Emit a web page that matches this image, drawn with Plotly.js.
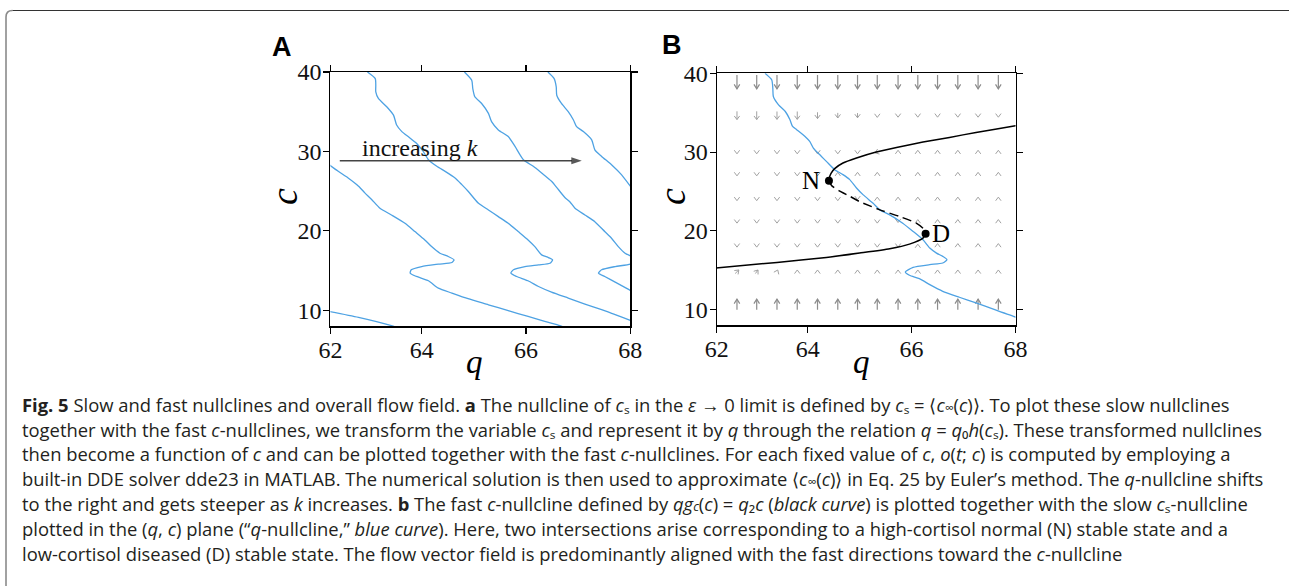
<!DOCTYPE html>
<html>
<head>
<meta charset="utf-8">
<script src="https://cdn.plot.ly/plotly-3.0.1.min.js"></script>
<style>html,body{margin:0;padding:0;background:#fff;}#plot{width:1289px;height:586px;}</style>
</head>
<body>
<div id="plot"></div>
<script>
// ---------- Panel A: slow q-nullclines for increasing k ----------
var nullK0_q = [62.2, 62.79, 63.42, 63.5];
var nullK0_c = [9.9, 9.12, 8.08, 7.9];

var nullK1_q = [62.2, 62.40, 62.59, 62.79, 62.91, 63.04, 63.20, 63.42, 63.68, 63.87, 64.06, 64.19, 64.35, 64.51, 64.62, 64.58, 64.32, 64.0, 63.80, 63.78, 63.90, 64.13, 64.32, 64.58, 64.89, 65.28, 65.66, 66.04, 66.36, 66.65, 66.72];
var nullK1_c = [28.45, 27.5, 26.67, 25.63, 24.79, 23.96, 22.85, 22.01, 20.96, 19.92, 18.87, 18.03, 17.20, 16.78, 16.36, 16.03, 15.82, 15.52, 15.11, 14.69, 14.27, 13.73, 12.80, 12.18, 11.47, 10.71, 9.96, 9.25, 8.62, 8.08, 7.9];

var nullK2_q = [62.96, 63.11, 63.12, 63.12, 63.17, 63.33, 63.46, 63.52, 63.62, 63.74, 63.90, 64.03, 64.13, 64.29, 64.45, 64.64, 64.77, 64.89, 65.09, 65.28, 65.47, 65.66, 65.85, 66.04, 66.17, 66.30, 66.43, 66.51, 66.46, 66.24, 65.98, 65.76, 65.71, 65.82, 66.04, 66.24, 66.49, 66.81, 67.13, 67.45, 67.71, 68.0, 68.1];
var nullK2_c = [40.0, 39.17, 38.33, 37.5, 36.67, 35.63, 34.58, 33.33, 32.5, 31.88, 31.04, 30.0, 28.96, 28.13, 27.5, 26.67, 25.83, 25.0, 23.47, 22.64, 21.80, 20.96, 19.92, 18.87, 18.03, 16.99, 16.65, 16.36, 15.94, 15.73, 15.52, 15.11, 14.69, 14.27, 13.73, 13.01, 12.30, 11.55, 10.80, 10.09, 9.46, 8.75, 8.5];

var nullK3_q = [64.82, 64.96, 64.98, 65.02, 65.15, 65.28, 65.34, 65.47, 65.66, 65.79, 65.95, 66.14, 66.30, 66.49, 66.62, 66.75, 66.84, 66.94, 67.13, 67.32, 67.51, 67.64, 67.77, 67.90, 68.0, 68.15, 68.0, 67.71, 67.45, 67.39, 67.51, 67.71, 68.0, 68.1];
var nullK3_c = [40.0, 38.96, 37.92, 36.88, 36.04, 34.79, 33.75, 32.71, 31.88, 30.63, 28.96, 28.13, 27.29, 26.25, 25.21, 24.17, 23.68, 22.85, 22.01, 21.17, 19.92, 19.08, 18.03, 17.20, 16.86, 16.4, 15.82, 15.52, 15.11, 14.69, 14.27, 13.56, 12.51, 12.1];

var nullK4_q = [66.42, 66.54, 66.58, 66.59, 66.68, 66.81, 66.91, 66.97, 67.10, 67.26, 67.32, 67.45, 67.64, 67.83, 68.0, 68.05];
var nullK4_c = [40.0, 39.17, 38.13, 37.08, 36.04, 35.0, 33.96, 33.13, 32.5, 31.46, 30.21, 29.38, 28.33, 27.08, 25.63, 25.2];

// ---------- Panel B: slow (blue) and fast (black) nullclines ----------
var slowB_q = [63.18, 63.31, 63.33, 63.34, 63.44, 63.57, 63.66, 63.71, 63.79, 63.95, 64.04, 64.11, 64.20, 64.36, 64.52, 64.68, 64.81, 64.94, 65.07, 65.26, 65.39, 65.58, 65.83, 66.03, 66.22, 66.35, 66.48, 66.60, 66.68, 66.60, 66.35, 66.03, 65.88, 65.96, 66.15, 66.35, 66.60, 66.92, 67.24, 67.56, 68.0, 68.1];
var slowB_c = [40.0, 39.16, 38.1, 37.05, 35.99, 35.15, 34.09, 33.25, 32.83, 31.98, 31.35, 30.51, 29.87, 28.82, 27.76, 27.13, 26.5, 25.44, 24.56, 23.5, 22.66, 22.03, 20.97, 19.92, 18.86, 17.81, 17.17, 16.75, 16.33, 15.91, 15.7, 15.36, 14.77, 14.35, 13.92, 13.16, 12.32, 11.56, 10.84, 10.08, 9.05, 8.85];

var fastUpper_q = [64.41, 64.42, 64.45, 64.52, 64.68, 64.94, 65.32, 65.71, 66.22, 66.73, 67.24, 68.0, 68.1];
var fastUpper_c = [26.37, 26.8, 27.3, 27.9, 28.61, 29.24, 30.0, 30.59, 31.27, 31.86, 32.49, 33.33, 33.45];
var fastMiddle_q = [64.41, 64.46, 64.6, 64.81, 65.0, 65.39, 65.77, 66.09, 66.25, 66.27];
var fastMiddle_c = [26.37, 25.75, 25.1, 24.39, 23.71, 22.66, 21.81, 20.97, 20.13, 19.62];
var fastLower_q = [66.27, 66.22, 65.96, 65.58, 65.0, 64.36, 63.41, 62.2];
var fastLower_c = [19.62, 19.07, 18.31, 17.72, 17.17, 16.62, 15.99, 15.25];

var stateLabels = ['N', 'D'];
var state_q = [64.41, 66.27];
var state_c = [26.37, 19.62];

// ---------- Panel B: flow field (column q, row c, arrow components) ----------
var fieldQ = [62.64, 63.02, 63.41, 63.80, 64.19, 64.58, 64.96, 65.34, 65.74, 66.12, 66.50, 66.89, 67.28, 67.67];
var fieldC = [38.9, 34.65, 30.0, 27.2, 24.05, 21.2, 18.15, 14.8, 10.65];
var fieldDc = [
  [-1.75, -1.75, -1.75, -1.75, -1.75, -1.75, -1.75, -1.75, -1.75, -1.75, -1.75, -1.75, -1.75, -1.75],
  [-1.05, -1.05, -1.0, -1.0, -0.8, -0.65, -0.6, -0.5, -0.45, -0.45, -0.45, -0.45, -0.45, -0.45],
  [-0.45, -0.45, -0.45, -0.45, -0.45, -0.45, -0.45, -0.2, 0.45, 0.45, 0.45, 0.45, 0.45, 0.45],
  [-0.45, -0.45, -0.45, -0.45, -0.45, 0.45, 0.45, 0.45, 0.45, 0.45, 0.45, 0.45, 0.45, 0.45],
  [-0.45, -0.45, -0.45, -0.45, -0.45, -0.45, -0.2, 0.45, 0.45, 0.45, 0.45, 0.45, 0.45, 0.45],
  [-0.45, -0.45, -0.45, -0.45, -0.45, -0.45, -0.45, -0.45, -0.3, 0.45, 0.45, 0.45, 0.45, 0.45],
  [-0.45, -0.45, -0.45, -0.45, -0.45, -0.45, -0.45, -0.45, -0.45, 0.3, 0.45, 0.45, 0.45, 0.45],
  [0.45, 0.45, 0.45, 0.45, 0.45, 0.45, 0.45, 0.45, 0.45, 0.45, 0.45, 0.45, 0.45, 0.45],
  [1.35, 1.35, 1.35, 1.35, 1.35, 1.35, 1.35, 1.35, 1.35, 1.35, 1.35, 1.35, 1.35, 1.35]
];
var fieldDq = [
  [0, 0, 0, 0, 0, 0, 0, 0, 0, 0, 0, 0, 0, 0],
  [0, 0, 0, 0, 0, 0, 0, 0, 0, 0, 0, 0, 0, 0],
  [0, 0, 0, 0, 0, 0, 0, -0.08, 0, 0, 0, 0, 0, 0],
  [0, 0, 0, 0, 0, 0, 0, 0, 0, 0, 0, 0, 0, 0],
  [0, 0, 0, 0, 0, 0, 0, 0, 0, 0, 0, 0, 0, 0],
  [0, 0, 0, 0, 0, 0, 0, 0, 0, 0, 0, 0, 0, 0],
  [0, 0, 0, 0, 0, 0, 0, 0, 0, 0, 0, 0, 0, 0],
  [0.07, 0.05, 0.03, 0, 0, 0, 0, 0, 0, 0, 0, 0, 0, 0],
  [0, 0, 0, 0, 0, 0, 0, 0, 0, 0, 0, 0, 0, 0]
];

// ---------- Text ----------
var xTickVals = [62.25, 64, 66, 68];
var xTickText = ['62', '64', '66', '68'];
var yTickVals = [10, 20, 30, 40];
var panelLabels = ['A', 'B'];
var axisTitleX = '<i>q</i>';
var axisTitleY = '<i>c</i>';
var arrowLabel = 'increasing <i>k</i>';
var SM = '<span style="font-size:12.5px">';
var captionLines = [
  '<b>Fig. 5</b> Slow and fast nullclines and overall flow field. <b>a</b> The nullcline of <i>c</i>ₛ in the <i>ε</i> → 0 limit is defined by <i>c</i>ₛ = ⟨<i>c</i>' + SM + '∞</span>(<i>c</i>)⟩. To plot these slow nullclines',
  'together with the fast <i>c</i>-nullclines, we transform the variable <i>c</i>ₛ and represent it by <i>q</i> through the relation <i>q</i> = <i>q</i>₀<i>h</i>(<i>c</i>ₛ). These transformed nullclines',
  'then become a function of <i>c</i> and can be plotted together with the fast <i>c</i>-nullclines. For each fixed value of <i>c</i>, <i>o</i>(<i>t</i>; <i>c</i>) is computed by employing a',
  'built-in DDE solver dde23 in MATLAB. The numerical solution is then used to approximate ⟨<i>c</i>' + SM + '∞</span>(<i>c</i>)⟩ in Eq. 25 by Euler’s method. The <i>q</i>-nullcline shifts',
  'to the right and gets steeper as <i>k</i> increases. <b>b</b> The fast <i>c</i>-nullcline defined by <i>qg</i>' + SM + '<i>c</i></span>(<i>c</i>) = <i>q</i>₂<i>c</i> (<i>black curve</i>) is plotted together with the slow <i>c</i>ₛ-nullcline',
  'plotted in the (<i>q</i>, <i>c</i>) plane (“<i>q</i>-nullcline,” <i>blue curve</i>). Here, two intersections arise corresponding to a high-cortisol normal (N) stable state and a',
  'low-cortisol diseased (D) stable state. The flow vector field is predominantly aligned with the fast directions toward the <i>c</i>-nullcline'
];

// ---------- Build figure ----------
var W = 1289, H = 586;
var BLUE = '#4ea2e3';
var serif = 'Liberation Serif, Times New Roman, serif';
function px2x(p) { return p / W; }
function py2y(p) { return 1 - p / H; }

var domXA = [px2x(330.4), px2x(630.3)], domYA = [py2y(326.3), py2y(72)];
var domXB = [px2x(716.7), px2x(1015.5)], domYB = [py2y(325.3), py2y(73.3)];
var xRange = [62.25, 68], yRange = [8, 40];

function blue(q, c, xa, ya) {
  return {x: q, y: c, xaxis: xa, yaxis: ya, type: 'scatter', mode: 'lines',
          line: {color: BLUE, width: 1.3, shape: 'spline', smoothing: 0.6}, hoverinfo: 'skip'};
}

// quiver built from the field arrays, heads sized in pixels via axis scale
var sxB = (domXB[1] - domXB[0]) * W / (xRange[1] - xRange[0]);
var syB = (domYB[1] - domYB[0]) * H / (yRange[1] - yRange[0]);
function quiver(big) {
  var xs = [], ys = [];
  for (var r = 0; r < fieldC.length; r++) {
    for (var k = 0; k < fieldQ.length; k++) {
      var dc = fieldDc[r][k], dq = fieldDq[r][k];
      if ((Math.abs(dc) > 1.2) !== big) continue;
      var tq = fieldQ[k] - dq / 2, tc = fieldC[r] - dc / 2;
      var hq = fieldQ[k] + dq / 2, hc = fieldC[r] + dc / 2;
      var dx = dq * sxB, dy = dc * syB, len = Math.sqrt(dx * dx + dy * dy);
      var ux = dx / len, uy = dy / len, px = -uy, py = ux;
      var hl = big ? 4.5 : 3.6, hw = big ? 2.8 : 2.7;
      if (len > hl + 0.5) { xs.push(tq, hq, null); ys.push(tc, hc, null); }
      xs.push(hq + (-hl * ux + hw * px) / sxB, hq, hq + (-hl * ux - hw * px) / sxB, null);
      ys.push(hc + (-hl * uy + hw * py) / syB, hc, hc + (-hl * uy - hw * py) / syB, null);
    }
  }
  return {x: xs, y: ys, xaxis: 'x2', yaxis: 'y2', mode: 'lines', hoverinfo: 'skip',
          line: {color: big ? '#8c8c8c' : '#a2a2a2', width: big ? 1.2 : 1.0}};
}

// "increasing k" arrow: shaft and head from the same endpoints
var kArrowQ = [62.43, 67.07];
var kArrowC = [28.83, 28.83];

var traces = [
  quiver(true), quiver(false),
  blue(nullK0_q, nullK0_c, 'x', 'y'),
  blue(nullK1_q, nullK1_c, 'x', 'y'),
  blue(nullK2_q, nullK2_c, 'x', 'y'),
  blue(nullK3_q, nullK3_c, 'x', 'y'),
  blue(nullK4_q, nullK4_c, 'x', 'y'),
  {x: kArrowQ, y: kArrowC, xaxis: 'x', yaxis: 'y', mode: 'lines+markers', hoverinfo: 'skip',
   line: {color: '#444', width: 1.4},
   marker: {symbol: ['circle', 'arrow'], angleref: 'previous', size: [0.1, 11], color: '#111', line: {width: 0}}},
  blue(slowB_q, slowB_c, 'x2', 'y2'),
  {x: fastUpper_q, y: fastUpper_c, xaxis: 'x2', yaxis: 'y2', mode: 'lines',
   line: {color: '#000', width: 1.5, shape: 'spline', smoothing: 0.6}, hoverinfo: 'skip'},
  {x: fastMiddle_q, y: fastMiddle_c, xaxis: 'x2', yaxis: 'y2', mode: 'lines',
   line: {color: '#000', width: 1.5, dash: '9px,5px', shape: 'spline', smoothing: 0.6}, hoverinfo: 'skip'},
  {x: fastLower_q, y: fastLower_c, xaxis: 'x2', yaxis: 'y2', mode: 'lines',
   line: {color: '#000', width: 1.5, shape: 'spline', smoothing: 0.6}, hoverinfo: 'skip'},
  {x: state_q, y: state_c, xaxis: 'x2', yaxis: 'y2', mode: 'markers',
   marker: {color: '#000', size: 8}, hoverinfo: 'skip'}
];

function axisX(dom, anchor) {
  return {domain: dom, range: xRange, anchor: anchor, tickmode: 'array', tickvals: xTickVals, ticktext: xTickText,
    showline: true, linecolor: '#000', linewidth: 1.2, mirror: 'ticks', ticks: 'outside', ticklen: 6,
    tickwidth: 1.1, tickcolor: '#000', showgrid: false, zeroline: false,
    tickfont: {family: serif, size: 24, color: '#111'}, ticklabelstandoff: -4};
}
function axisY(dom, anchor) {
  return {domain: dom, range: yRange, anchor: anchor, tickmode: 'array', tickvals: yTickVals,
    showline: true, linecolor: '#000', linewidth: 1.2, mirror: 'ticks', ticks: 'outside', ticklen: 6,
    tickwidth: 1.1, tickcolor: '#000', showgrid: false, zeroline: false,
    tickfont: {family: serif, size: 24, color: '#111'}, ticklabelstandoff: -3};
}

var annotations = [];
function paperText(txt, px, py, size, fam, angle) {
  annotations.push({xref: 'paper', yref: 'paper', x: px2x(px), y: py2y(py), text: txt, showarrow: false,
    xanchor: 'center', yanchor: 'middle', textangle: angle || 0, font: {family: fam, size: size, color: '#000'}});
}
paperText('<b>' + panelLabels[0] + '</b>', 281.5, 46.5, 27, 'Liberation Sans, Arial');
paperText('<b>' + panelLabels[1] + '</b>', 671.5, 45.5, 27, 'Liberation Sans, Arial');
// axis titles
paperText(axisTitleX, 474, 362, 33, serif);
paperText(axisTitleX, 861, 362, 33, serif);
paperText(axisTitleY, 284, 197, 38, serif, -90);
paperText(axisTitleY, 672, 197, 38, serif, -90);
annotations.push({xref: 'x', yref: 'y', x: 63.97, y: 30.48, text: arrowLabel, showarrow: false,
  xanchor: 'center', yanchor: 'middle', font: {family: serif, size: 24, color: '#111'}});
// N, D labels
annotations.push({xref: 'x2', yref: 'y2', x: 64.06, y: 26.45, text: stateLabels[0], showarrow: false,
  xanchor: 'center', yanchor: 'middle', font: {family: serif, size: 25, color: '#000'}});
annotations.push({xref: 'x2', yref: 'y2', x: 66.57, y: 19.66, text: stateLabels[1], showarrow: false,
  xanchor: 'center', yanchor: 'middle', font: {family: serif, size: 25, color: '#000'}});
// caption, one annotation per printed line
var capY = [404, 429, 453.5, 478, 503, 528, 553];
for (var i = 0; i < captionLines.length; i++) {
  annotations.push({xref: 'paper', yref: 'paper', x: px2x(20), y: py2y(capY[i]), text: captionLines[i],
    showarrow: false, xanchor: 'left', yanchor: 'middle', align: 'left',
    font: {family: 'Open Sans, Noto Sans, sans-serif', size: 18.4, color: '#231f20'}});
}

var shapes = [
  {type: 'path', xref: 'paper', yref: 'paper',
   path: 'M ' + px2x(6) + ',' + py2y(600) + ' L ' + px2x(6) + ',' + py2y(17) + ' Q ' + px2x(6) + ',' + py2y(10.5) + ' ' + px2x(12.5) + ',' + py2y(10.5),
   line: {color: '#8a8a8a', width: 1.6}},
  {type: 'line', xref: 'paper', yref: 'paper', x0: px2x(12.5), y0: py2y(10.5), x1: 1.01, y1: py2y(10.5),
   line: {color: '#333', width: 1}}
];

var layout = {
  width: W, height: H, margin: {l: 0, r: 0, t: 0, b: 0}, paper_bgcolor: '#fff', plot_bgcolor: '#fff',
  showlegend: false, hovermode: false,
  xaxis: axisX(domXA, 'y'), yaxis: axisY(domYA, 'x'),
  xaxis2: axisX(domXB, 'y2'), yaxis2: axisY(domYB, 'x2'),
  annotations: annotations, shapes: shapes
};

Plotly.newPlot('plot', traces, layout, {displayModeBar: false, staticPlot: true});
</script>
</body>
</html>
